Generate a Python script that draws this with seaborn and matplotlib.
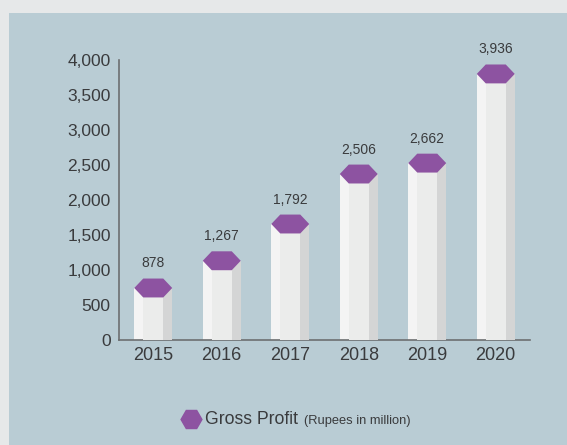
import matplotlib
matplotlib.use("Agg")
import matplotlib.pyplot as plt
from matplotlib.lines import Line2D
from matplotlib.patches import Rectangle, Polygon
from matplotlib.ticker import FuncFormatter
import seaborn as sns
import pandas as pd

years = ["2015", "2016", "2017", "2018", "2019", "2020"]
gross_profit = [878, 1267, 1792, 2506, 2662, 3936]
y_ticks = [0, 500, 1000, 1500, 2000, 2500, 3000, 3500, 4000]

PANEL = "#b9ccd4"
OUTER = "#e6e8e9"
PURPLE = "#8d53a1"
FACE_LEFT = "#f4f4f4"
FACE_MID = "#ebeceb"
FACE_RIGHT = "#d4d5d5"
AXIS = "#6d6f71"
TEXT = "#3a3b3d"

sns.set_style("white")
plt.rcParams["font.family"] = ["Liberation Sans", "DejaVu Sans"]

fig = plt.figure(figsize=(5.67, 4.45), dpi=100)
fig.patch.set_facecolor(OUTER)
fig.add_artist(Rectangle((9 / 567, 0), 1, (445 - 13) / 445,
                         transform=fig.transFigure, facecolor=PANEL,
                         edgecolor="none", zorder=0))

ax = fig.add_axes([119 / 567, 105 / 445, 411 / 567, 280 / 445])
ax.set_facecolor("none")

# hexagon geometry (data units)
half_w = 0.277
inner_w = 0.146
hex_h = 270

df = pd.DataFrame({"year": years, "body": [v - hex_h / 2 for v in gross_profit]})
sns.barplot(data=df, x="year", y="body", width=2 * half_w, color=FACE_LEFT,
            saturation=1, edgecolor="none", ax=ax, zorder=2)

for i, v in enumerate(gross_profit):
    top = v - hex_h / 2
    ax.fill([i - inner_w, i + inner_w, i + inner_w, i - inner_w],
            [0, 0, top, top], color=FACE_MID, lw=0, zorder=3)
    ax.fill([i + inner_w, i + half_w, i + half_w, i + inner_w],
            [0, 0, top, top], color=FACE_RIGHT, lw=0, zorder=3)
    hexagon = Polygon([(i - inner_w, v), (i + inner_w, v), (i + half_w, v - hex_h / 2),
                       (i + inner_w, v - hex_h), (i - inner_w, v - hex_h),
                       (i - half_w, v - hex_h / 2)],
                      closed=True, facecolor=PURPLE, edgecolor="none",
                      zorder=4, clip_on=False)
    ax.add_patch(hexagon)
    ax.text(i, v + 215, f"{v:,}", ha="center", va="center", fontsize=10,
            color=TEXT, clip_on=False)

ax.set_xlim(-0.5, 5.5)
ax.set_ylim(0, 4000)
ax.set_yticks(y_ticks)
ax.yaxis.set_major_formatter(FuncFormatter(lambda x, p: f"{int(x):,}"))
ax.set_xlabel("")
ax.set_ylabel("")
ax.tick_params(axis="both", length=0, colors=TEXT)
ax.tick_params(axis="y", labelsize=12.5, pad=6)
ax.tick_params(axis="x", labelsize=13, pad=5)
for s in ["top", "right"]:
    ax.spines[s].set_visible(False)
for s in ["left", "bottom"]:
    ax.spines[s].set_color(AXIS)
    ax.spines[s].set_linewidth(1.2)

# legend
fig.add_artist(Line2D([191 / 567], [1 - 419 / 445], transform=fig.transFigure,
                      marker="H", markersize=15, color=PURPLE, linestyle="none"))
fig.text(205 / 567, 1 - 419 / 445, "Gross Profit", fontsize=12.7, color=TEXT,
         va="center", ha="left")
fig.text(304 / 567, 1 - 421 / 445, "(Rupees in million)", fontsize=9.3,
         color=TEXT, va="center", ha="left")

fig.savefig("out.png", dpi=100, facecolor=fig.get_facecolor())
